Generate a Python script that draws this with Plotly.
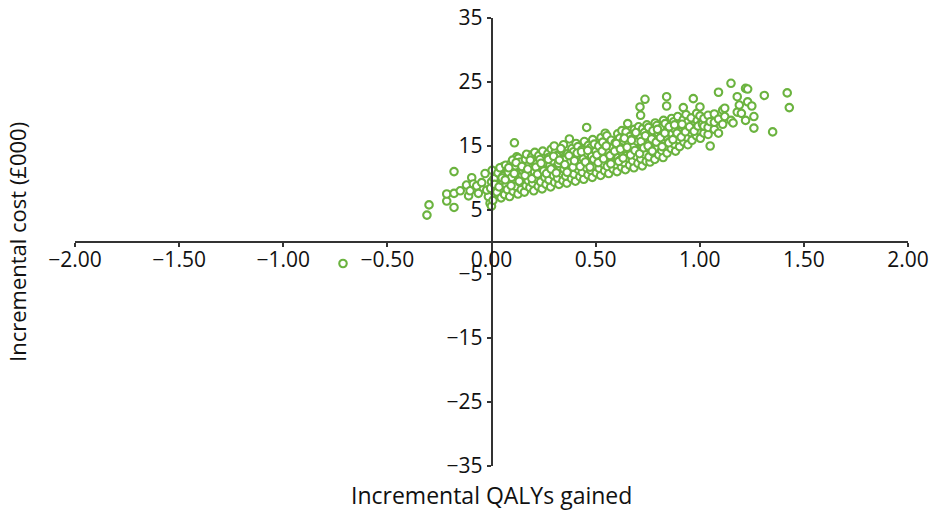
import plotly.graph_objects as go

# ---- data ----
qaly = [
    # sparse points left of / near the origin
    -0.31, -0.30, -0.215, -0.215, -0.18, -0.18, -0.18, -0.15, -0.12, -0.11,
    -0.095, -0.087, -0.103, -0.071, -0.047, -0.031, -0.063, -0.007, -0.015, -0.023,
    0.0, 0.017, 0.04, 0.057, 0.089, 0.121, 0.185, 0.193, 0.04, 0.033,
    0.073, 0.105, 0.153, 0.089, 0.121, 0.169, 0.2, 0.217, 0.025, 0.073,
    0.105, 0.153, 0.137, 0.169, 0.057, 0.025, 0.0, 0.11,
    # main band
    0.007, -0.004, 0.012, 0.003,
    0.026, 0.015, 0.031,
    0.046, 0.036, 0.052, 0.041,
    0.063, 0.071, 0.055, 0.068,
    0.087, 0.076, 0.092, 0.081, 0.095,
    0.104, 0.112, 0.097, 0.108, 0.101,
    0.127, 0.116, 0.131, 0.122, 0.114, 0.129,
    0.143, 0.137, 0.148, 0.152, 0.139,
    0.158, 0.166, 0.171, 0.156, 0.163, 0.168,
    0.184, 0.176, 0.189, 0.181, 0.192,
    0.203, 0.197, 0.211, 0.206, 0.199, 0.208,
    0.224, 0.218, 0.229, 0.215, 0.227,
    0.243, 0.236, 0.249, 0.241, 0.233, 0.246,
    0.262, 0.256, 0.268, 0.259, 0.271,
    0.284, 0.276, 0.289, 0.281, 0.274, 0.287,
    0.303, 0.297, 0.309, 0.294, 0.306, 0.301,
    0.324, 0.317, 0.328, 0.321, 0.315,
    0.343, 0.337, 0.348, 0.341, 0.335, 0.346,
    0.362, 0.356, 0.367, 0.359, 0.365, 0.374,
    0.384, 0.377, 0.388, 0.381, 0.386,
    0.403, 0.396, 0.409, 0.401, 0.394, 0.406,
    0.424, 0.417, 0.428, 0.421, 0.415,
    0.443, 0.436, 0.448, 0.441, 0.434, 0.446,
    0.463, 0.456, 0.467, 0.459, 0.465, 0.457,
    0.484, 0.477, 0.488, 0.481, 0.475, 0.486,
    0.503, 0.496, 0.508, 0.501, 0.494,
    0.524, 0.517, 0.528, 0.521, 0.515, 0.526,
    0.543, 0.536, 0.548, 0.541, 0.534, 0.546,
    0.563, 0.556, 0.567, 0.559, 0.565, 0.554,
    0.584, 0.577, 0.588, 0.581, 0.575,
    0.603, 0.596, 0.608, 0.601, 0.594, 0.606,
    0.624, 0.617, 0.628, 0.621, 0.615, 0.626,
    0.643, 0.636, 0.648, 0.641, 0.634, 0.646,
    0.663, 0.656, 0.667, 0.659, 0.665, 0.654,
    0.684, 0.677, 0.688, 0.681, 0.675, 0.686,
    0.703, 0.696, 0.708, 0.701, 0.694, 0.706,
    0.724, 0.717, 0.728, 0.721, 0.715, 0.726, 0.716, 0.713,
    0.743, 0.736, 0.748, 0.741, 0.734, 0.746, 0.737,
    0.761, 0.756, 0.767, 0.759, 0.765, 0.754,
    0.784, 0.777, 0.788, 0.781, 0.775, 0.786,
    0.803, 0.796, 0.808, 0.801, 0.794,
    0.824, 0.817, 0.828, 0.821, 0.815, 0.826,
    0.843, 0.836, 0.848, 0.841, 0.834, 0.841, 0.841,
    0.863, 0.856, 0.867, 0.859, 0.865,
    0.884, 0.877, 0.888, 0.881, 0.875,
    0.903, 0.896, 0.908, 0.901, 0.894,
    0.924, 0.917, 0.928, 0.921, 0.921,
    0.943, 0.936, 0.948, 0.941, 0.934,
    0.963, 0.956, 0.967, 0.959, 0.969,
    0.984, 0.977, 0.988, 0.985,
    1.003, 0.996, 1.008, 1.001, 1.001,
    # in-between points of the band
    0.051, 0.066, 0.083, 0.094, 0.109, 0.118, 0.133, 0.146, 0.161, 0.174,
    0.186, 0.194, 0.213, 0.221, 0.238, 0.251, 0.264, 0.273, 0.286, 0.298,
    0.311, 0.326, 0.333, 0.352, 0.363, 0.372, 0.391, 0.398, 0.411, 0.426,
    0.432, 0.451, 0.462, 0.473, 0.491, 0.506, 0.512, 0.531, 0.538, 0.551,
    0.569, 0.573, 0.591, 0.599, 0.611, 0.619, 0.632, 0.638, 0.651, 0.668,
    0.672, 0.689, 0.693, 0.711, 0.718, 0.731, 0.739, 0.752, 0.769, 0.772,
    0.791, 0.797, 0.811, 0.819, 0.832, 0.851, 0.853, 0.871, 0.879, 0.891,
    0.911, 0.915, 0.931, 0.951, 0.973, 0.992, 1.013, 1.027,
    # upper-right tail
    1.02, 1.02, 1.02,
    1.04, 1.04, 1.04,
    1.05, 1.05,
    1.07, 1.07, 1.07,
    1.09, 1.09, 1.09,
    1.11, 1.11,
    1.12, 1.12,
    1.15, 1.15,
    1.16,
    1.18, 1.18,
    1.19,
    1.20,
    1.22, 1.22,
    1.23, 1.23,
    1.25,
    1.26, 1.26,
    1.31,
    1.35,
    1.42,
    1.43,
]

cost = [
    4.2, 5.8, 6.4, 7.5, 7.6, 5.4, 11.0, 8.0, 8.9, 7.2,
    10.05, 9.06, 8.0, 8.75, 9.27, 10.7, 7.6, 6.05, 7.1, 8.1,
    9.4, 9.95, 11.5, 11.8, 12.0, 13.3, 13.6, 12.0, 8.1, 7.3,
    7.6, 8.1, 8.4, 9.2, 9.7, 10.2, 8.9, 9.7, 10.5, 10.7,
    11.25, 11.5, 12.3, 11.0, 9.2, 8.6, 5.6, 15.5,
    6.5, 8.4, 9.9, 11.2,
    7.8, 9.0, 10.8,
    6.9, 8.6, 9.6, 11.6,
    7.4, 8.9, 10.3, 12.0,
    7.1, 8.2, 9.5, 10.9, 12.3,
    7.9, 9.1, 10.1, 11.4, 12.8,
    7.5, 8.7, 9.8, 10.6, 11.9, 13.1,
    8.2, 9.3, 10.4, 11.1, 12.5,
    7.8, 8.8, 9.9, 11.6, 12.9, 13.7,
    8.5, 9.6, 10.8, 12.1, 13.3,
    8.0, 9.2, 10.3, 11.0, 12.6, 14.0,
    8.7, 9.8, 11.3, 12.2, 13.5,
    8.3, 9.4, 10.6, 11.8, 12.9, 14.2,
    9.0, 10.1, 11.5, 12.4, 13.8,
    8.6, 9.7, 10.9, 12.0, 13.2, 14.5,
    9.3, 10.4, 11.2, 12.7, 14.0, 15.0,
    9.0, 10.0, 11.7, 12.3, 13.5,
    9.6, 10.7, 11.4, 12.9, 14.3, 15.2,
    9.2, 10.3, 11.9, 13.1, 13.8, 16.1,
    9.9, 11.0, 12.2, 12.6, 14.6,
    9.5, 10.6, 11.6, 13.3, 14.1, 15.4,
    10.2, 11.3, 12.5, 13.6, 14.9,
    9.8, 10.9, 12.0, 13.0, 14.4, 15.7,
    10.5, 11.6, 12.8, 13.9, 15.1, 17.9,
    10.1, 11.2, 12.3, 13.4, 14.7, 16.0,
    10.8, 11.9, 13.0, 14.2, 15.3,
    10.4, 11.5, 12.6, 13.7, 15.0, 16.3,
    11.1, 12.2, 13.4, 14.5, 15.6, 17.0,
    10.7, 11.8, 12.9, 14.0, 15.2, 16.6,
    11.4, 12.5, 13.6, 14.8, 15.9,
    11.0, 12.1, 13.2, 14.3, 15.5, 16.9,
    11.7, 12.8, 13.9, 15.1, 16.2, 17.4,
    11.3, 12.4, 13.5, 14.6, 15.8, 17.2,
    12.0, 13.1, 14.2, 15.4, 16.5, 18.5,
    11.6, 12.7, 13.8, 14.9, 16.1, 17.6,
    12.3, 13.4, 14.5, 15.7, 16.8, 18.0,
    11.9, 13.0, 14.1, 15.2, 16.4, 17.7, 19.8, 21.1,
    12.6, 13.7, 14.8, 16.0, 17.1, 18.3, 22.3,
    12.5, 13.3, 14.4, 15.5, 16.7, 17.9,
    12.9, 14.0, 15.1, 16.3, 17.4, 18.6,
    13.6, 14.7, 15.8, 17.0, 18.2,
    13.2, 14.3, 15.4, 16.6, 17.8, 19.0,
    13.9, 15.0, 16.1, 17.3, 18.5, 21.25, 22.7,
    14.6, 15.7, 16.9, 18.1, 19.3,
    14.2, 15.3, 16.5, 17.6, 18.8,
    14.9, 16.0, 17.2, 18.4, 19.6,
    15.6, 16.8, 17.9, 19.1, 21.0,
    15.2, 16.4, 17.5, 18.7, 19.9,
    15.9, 17.1, 18.2, 19.4, 22.4,
    16.6, 17.8, 19.0, 20.1,
    16.2, 17.4, 18.6, 19.7, 21.1,
    10.0, 9.7, 11.6, 8.8, 10.7, 12.4, 9.5, 11.8, 10.4, 11.4,
    12.8, 9.9, 11.7, 10.6, 12.3, 11.1, 10.7, 12.9, 11.4, 13.4,
    10.8, 12.8, 14.6, 12.1, 10.9, 13.5, 11.7, 12.7, 13.9, 11.8,
    14.1, 12.5, 14.3, 11.7, 12.9, 13.6, 12.4, 14.2, 13.0, 15.0,
    13.5, 12.2, 14.2, 15.4, 12.6, 14.5, 13.1, 16.2, 14.8, 13.6,
    15.9, 14.3, 17.1, 13.8, 15.7, 14.7, 16.6, 15.0, 16.1, 14.2,
    15.6, 17.6, 16.3, 14.9, 17.0, 15.5, 18.0, 16.0, 18.3, 17.0,
    16.4, 18.4, 17.2, 18.0, 17.3, 18.1, 18.4, 17.5,
    17.0, 18.1, 19.3,
    16.8, 17.9, 19.8,
    15.0, 18.8,
    17.6, 18.7, 20.0,
    17.0, 19.2, 23.4,
    18.4, 20.6,
    19.6, 20.9,
    24.8, 19.0,
    18.6,
    20.3, 22.7,
    21.4,
    20.1,
    24.0, 19.0,
    23.9, 21.9,
    21.25,
    17.8, 19.6,
    22.9,
    17.2,
    23.3,
    21.0,
]

x_ticks = [-2.0, -1.5, -1.0, -0.5, 0.0, 0.5, 1.0, 1.5, 2.0]
x_tick_text = ["\u22122.00", "\u22121.50", "\u22121.00", "\u22120.50", "0.00", "0.50", "1.00", "1.50", "2.00"]
y_ticks = [-35, -25, -15, -5, 5, 15, 25, 35]
y_tick_text = ["\u221235", "\u221225", "\u221215", "\u22125", "5", "15", "25", "35"]

GREEN = "#6BB33F"
AXIS = "#333333"
FONT = "Open Sans"

fig = go.Figure()
fig.add_trace(go.Scatter(
    x=qaly, y=cost, mode="markers", name=" ",
    marker=dict(symbol="circle", size=7.5, color="white",
                line=dict(color=GREEN, width=2.1)),
    showlegend=True,
))

fig.update_layout(
    width=934, height=513,
    margin=dict(l=75, r=26, t=18, b=47),
    paper_bgcolor="white", plot_bgcolor="white",
    font=dict(family=FONT, size=21, color="#111"),
    showlegend=True,
    legend=dict(x=(323 - 75) / 833, y=1 - (249 - 18) / 448, xanchor="left", yanchor="top",
                bgcolor="rgba(0,0,0,0)", font=dict(size=10), itemwidth=30,
                tracegroupgap=0),
    xaxis=dict(range=[-2, 2], anchor="free", position=0.5, showgrid=False, zeroline=False,
               automargin=False,
               showline=True, linecolor=AXIS, linewidth=1.5,
               ticks="outside", ticklen=4, tickwidth=1.5, tickcolor=AXIS,
               ticklabelstandoff=-5,
               tickvals=x_ticks, ticktext=x_tick_text, tickfont=dict(size=21)),
    yaxis=dict(range=[-35, 35], anchor="free", position=0.5, showgrid=False, zeroline=False,
               automargin=False,
               showline=True, linecolor=AXIS, linewidth=1.5,
               ticks="outside", ticklen=4, tickwidth=1.5, tickcolor=AXIS,
               tickvals=y_ticks, ticktext=y_tick_text, tickfont=dict(size=21)),
    annotations=[
        dict(text="Incremental QALYs gained", xref="paper", yref="paper",
             x=0.5, y=-29 / 448, xanchor="center", yanchor="middle",
             showarrow=False, font=dict(size=23)),
        dict(text="Incremental cost (£000)", xref="paper", yref="paper",
             x=-58 / 833, y=0.5, xanchor="center", yanchor="middle", textangle=-90,
             showarrow=False, font=dict(size=22)),
    ],
)

fig.write_html("out.html", config={"displayModeBar": False},
               post_script="document.body.style.margin='0px';document.body.style.overflow='hidden';")
